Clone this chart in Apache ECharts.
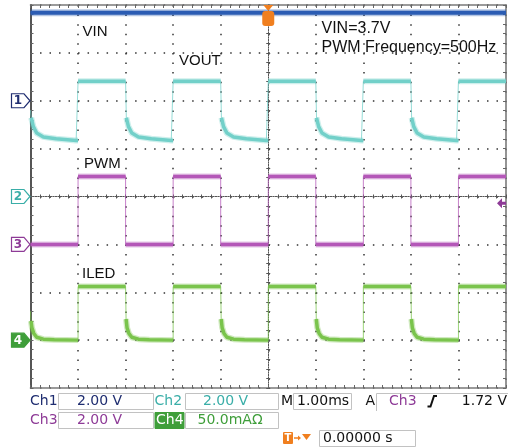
<!DOCTYPE html>
<html><head><meta charset="utf-8">
<script src="https://cdn.jsdelivr.net/npm/echarts@6/dist/echarts.min.js"></script>
<style>html,body{margin:0;padding:0;background:#fff}#c{width:508px;height:448px}</style>
</head><body><div id="c"></div>
<script>
// ---- data (time in ms, trigger at 0; 1.00 ms/div) ----
const timeRange = [-5, 5];
const vinPoints = [[-5, 3.68], [5, 3.68]];                       // Ch1, V
const voutPoints = [                                              // Ch2, V
  [-5, 3.6], [-4.985, 3.29], [-4.94, 2.92], [-4.87, 2.65], [-4.73, 2.49], [-4.46, 2.41], [-4.04, 2.34], [-4, 2.34],
  [-4, 4.81], [-3, 4.81], [-2.985, 3.29], [-2.94, 2.92], [-2.87, 2.65], [-2.73, 2.49], [-2.46, 2.41], [-2.04, 2.34], [-2, 2.34],
  [-2, 4.81], [-1, 4.81], [-0.985, 3.29], [-0.94, 2.92], [-0.87, 2.65], [-0.73, 2.49], [-0.46, 2.41], [-0.04, 2.34], [0, 2.34],
  [0, 4.81], [1, 4.81], [1.015, 3.29], [1.06, 2.92], [1.13, 2.65], [1.27, 2.49], [1.54, 2.41], [1.96, 2.34], [2, 2.34],
  [2, 4.81], [3, 4.81], [3.015, 3.29], [3.06, 2.92], [3.13, 2.65], [3.27, 2.49], [3.54, 2.41], [3.96, 2.34], [4, 2.34],
  [4, 4.81], [5, 4.81]
];
const pwmPoints = [                                               // Ch3, V
  [-5, 0], [-4, 0], [-4, 2.84], [-3, 2.84], [-3, 0], [-2, 0], [-2, 2.84], [-1, 2.84], [-1, 0],
  [0, 0], [0, 2.84], [1, 2.84], [1, 0], [2, 0], [2, 2.84], [3, 2.84], [3, 0], [4, 0], [4, 2.84], [5, 2.84]
];
const iledPoints = [                                              // Ch4, mA
  [-5, 30], [-4.99, 20], [-4.97, 13], [-4.93, 7], [-4.87, 3], [-4.73, 1], [-4.5, 0.3], [-4, 0],
  [-4, 56], [-3, 56], [-2.99, 22], [-2.97, 13], [-2.93, 7], [-2.87, 3], [-2.73, 1], [-2.5, 0.3], [-2, 0],
  [-2, 56], [-1, 56], [-0.99, 22], [-0.97, 13], [-0.93, 7], [-0.87, 3], [-0.73, 1], [-0.5, 0.3], [0, 0],
  [0, 56], [1, 56], [1.01, 22], [1.03, 13], [1.07, 7], [1.13, 3], [1.27, 1], [1.5, 0.3], [2, 0],
  [2, 56], [3, 56], [3.01, 22], [3.03, 13], [3.07, 7], [3.13, 3], [3.27, 1], [3.5, 0.3], [4, 0],
  [4, 56], [5, 56]
];
const triggerLevel = 1.72; // Ch3, V

// ---- channel settings (units per division, ground offset in divisions) ----
const channels = [
  { name: '1', perDiv: 2, offset: 2, trace: '#2b5cb3', text: '#1f2d70', filled: false },
  { name: '2', perDiv: 2, offset: 0, trace: '#72d0c9', text: '#3aaea8', filled: false },
  { name: '3', perDiv: 2, offset: -1, trace: '#b457b8', text: '#8e3b97', filled: false },
  { name: '4', perDiv: 50, offset: -3, trace: '#7ac44c', text: '#3f9e3a', filled: true }
];
const traces = [vinPoints, voutPoints, pwmPoints, iledPoints];

const chart = echarts.init(document.getElementById('c'), null, { renderer: 'canvas' });

function band(points) {
  const out = [];
  for (let i = 0; i < points.length; i++) {
    if (i > 0 && points[i][0] - points[i - 1][0] < 0.02) out.push([points[i][0], null]);
    out.push(points[i]);
  }
  return out;
}

const border = { onZero: false, lineStyle: { color: '#7a7a7a', width: 1.6 } };
const tickIn = { show: true, inside: true, length: 3, lineStyle: { color: '#666' } };
const minorIn = { show: true, splitNumber: 5, length: 3, lineStyle: { color: '#666' } };
const dottedV = { show: true, lineStyle: { color: '#333', width: 1.5, type: [1.5, 8.08] } };
const dottedH = { show: true, lineStyle: { color: '#333', width: 1.5, type: [1.5, 8.01] } };
const centerLine = { show: true, onZero: true, onZeroAxisIndex: 0, lineStyle: { color: '#555', width: 1, type: [1, 1.5] } };
const cTick = (inside) => ({ show: true, inside, length: 2, lineStyle: { color: '#555' } });
const cMinor = { show: true, splitNumber: 5, length: 2, lineStyle: { color: '#555' } };

const xAxis = [
  { type: 'value', min: timeRange[0], max: timeRange[1], interval: 1, position: 'bottom', axisLine: border, axisTick: tickIn, minorTick: minorIn, axisLabel: { show: false }, splitLine: dottedV },
  { type: 'value', min: timeRange[0], max: timeRange[1], interval: 1, position: 'top', axisLine: border, axisTick: tickIn, minorTick: minorIn, axisLabel: { show: false }, splitLine: { show: false } },
  { type: 'value', min: timeRange[0], max: timeRange[1], interval: 1, position: 'bottom', axisLine: centerLine, axisTick: cTick(true), minorTick: cMinor, axisLabel: { show: false }, splitLine: { show: false } },
  { type: 'value', min: timeRange[0], max: timeRange[1], interval: 1, position: 'bottom', axisLine: centerLine, axisTick: cTick(false), minorTick: cMinor, axisLabel: { show: false }, splitLine: { show: false } }
];
const yAxis = [
  { type: 'value', min: -4, max: 4, interval: 1, position: 'left', axisLine: { onZero: false, lineStyle: { color: '#555', width: 2 } }, axisTick: tickIn, minorTick: minorIn, axisLabel: { show: false }, splitLine: dottedH },
  { type: 'value', min: -4, max: 4, interval: 1, position: 'right', axisLine: border, axisTick: tickIn, minorTick: minorIn, axisLabel: { show: false }, splitLine: { show: false } },
  { type: 'value', min: -4, max: 4, interval: 1, position: 'left', axisLine: centerLine, axisTick: cTick(true), minorTick: cMinor, axisLabel: { show: false }, splitLine: { show: false } },
  { type: 'value', min: -4, max: 4, interval: 1, position: 'left', axisLine: centerLine, axisTick: cTick(false), minorTick: cMinor, axisLabel: { show: false }, splitLine: { show: false } }
];
channels.forEach(ch => {
  yAxis.push({ type: 'value', show: false, min: -(4 + ch.offset) * ch.perDiv, max: (4 - ch.offset) * ch.perDiv, axisLine: { onZero: false }, splitLine: { show: false } });
});

const series = [];
traces.forEach((pts, i) => {
  const ch = channels[i];
  const base = { type: 'line', xAxisIndex: 0, yAxisIndex: 4 + i, showSymbol: false, silent: true, animation: false, z: 3 };
  series.push(Object.assign({}, base, { data: pts, lineStyle: { color: ch.trace, width: 1, opacity: 0.75 } }));
  series.push(Object.assign({}, base, { data: band(pts), lineStyle: { color: ch.trace, width: i === 0 ? 7 : 6, opacity: 0.35 } }));
  series.push(Object.assign({}, base, { data: band(pts), lineStyle: { color: ch.trace, width: i === 0 ? 4 : 3.5 } }));
});

chart.setOption({
  animation: false,
  backgroundColor: '#ffffff',
  grid: { left: 30.5, right: 2, top: 5, bottom: 60, containLabel: false },
  xAxis, yAxis, series
});

// ---- decorations: channel markers, trigger markers, labels, status bar ----
const px = v => chart.convertToPixel({ xAxisIndex: 0 }, v);
const py = (idx, v) => chart.convertToPixel({ yAxisIndex: idx }, v);
const g = [];
const F = '14px "DejaVu Sans"';
const LF = '15px "Liberation Sans"';
function txt(x, y, s, fill, font, align) {
  return { type: 'text', x, y, z: 20, style: { text: s, fill, font: font || F, textAlign: align || 'left', align: align || 'left', textVerticalAlign: 'middle', verticalAlign: 'middle' } };
}
function rect(x, y, w, h, fill, stroke) {
  return { type: 'rect', z: 19, shape: { x, y, width: w, height: h }, style: { fill: fill || '#fff', stroke: stroke || '#c2c2c2', lineWidth: 1 } };
}

channels.forEach((ch, i) => {
  const y = py(4 + i, 0);
  const x0 = 11.5, tip = 30;
  g.push({ type: 'polygon', z: 20, shape: { points: [[x0, y - 7], [tip - 6, y - 7], [tip, y], [tip - 6, y + 7], [x0, y + 7]] },
    style: { fill: ch.filled ? ch.text : '#fff', stroke: ch.text, lineWidth: 1.2 } });
  g.push(txt(x0 + 6.5, y + 0.5, ch.name, ch.filled ? '#fff' : ch.text, 'bold 12px "DejaVu Sans"', 'center'));
});

// trigger position marker (top) and trigger level arrow (right)
const tx = px(0);
g.push({ type: 'polygon', z: 21, shape: { points: [[tx - 5, 5], [tx + 5, 5], [tx, 11]] }, style: { fill: '#f07f1f' } });
g.push({ type: 'rect', z: 21, shape: { x: tx - 6, y: 11, width: 12, height: 15, r: 3 }, style: { fill: '#f07f1f' } });
g.push(txt(tx, 18.5, 'T', '#fff', 'bold 10px "DejaVu Sans"', 'center'));
const ty = py(6, triggerLevel);
g.push({ type: 'polygon', z: 21, shape: { points: [[497, ty], [502, ty - 5], [502, ty - 1.5], [506, ty - 1.5], [506, ty + 1.5], [502, ty + 1.5], [502, ty + 5]] }, style: { fill: '#8e3b97' } });

// trace labels and annotation
g.push(txt(82.5, 32, 'VIN', '#111', LF));
g.push(txt(179, 60.5, 'VOUT', '#111', LF));
g.push(txt(84, 163.5, 'PWM', '#111', LF));
g.push(txt(82, 273.5, 'ILED', '#111', LF));
g.push(txt(321.5, 29, 'VIN=3.7V', '#111', '16px "Liberation Sans"'));
g.push(txt(321.5, 47.5, 'PWM Frequency=500Hz', '#111', '16px "Liberation Sans"'));

// status bar
const r1 = 401, r2 = 420, r3 = 438;
g.push(txt(30, r1, 'Ch1', '#1f2d70'));
g.push(rect(58.5, 393.5, 95, 16));
g.push(txt(77, r1, '2.00 V', '#1f2d70'));
g.push(txt(154.5, r1, 'Ch2', '#3aaea8'));
g.push(rect(185.5, 393.5, 93, 16));
g.push(txt(203, r1, '2.00 V', '#3aaea8'));
g.push(txt(281, r1, 'M', '#111'));
g.push(rect(293.5, 393.5, 58, 16));
g.push(txt(297, r1, '1.00ms', '#111'));
g.push(txt(365.5, r1, 'A', '#111'));
g.push({ type: 'polyline', z: 19, shape: { points: [[376.5, 411], [376.5, 393.5], [508, 393.5]] }, style: { stroke: '#c2c2c2', lineWidth: 1, fill: null } });
g.push(txt(389, r1, 'Ch3', '#8e3b97'));
g.push({ type: 'polyline', z: 20, shape: { points: [[427.5, 406.5], [430.5, 406.5], [434, 396], [437, 396]] }, style: { stroke: '#111', lineWidth: 2, fill: null } });
g.push(txt(507, r1, '1.72 V', '#111', F, 'right'));

g.push(txt(30, r2, 'Ch3', '#8e3b97'));
g.push(rect(58.5, 412.5, 95, 16));
g.push(txt(77, r2, '2.00 V', '#8e3b97'));
g.push(rect(155, 412.5, 29, 16, '#3f9e3a', '#3f9e3a'));
g.push(txt(156, r2, 'Ch4', '#fff'));
g.push(rect(185.5, 412.5, 93, 16));
g.push(txt(197.5, r2, '50.0mAΩ', '#3f9e3a'));

g.push({ type: 'rect', z: 20, shape: { x: 283, y: 432, width: 10, height: 12, r: 1 }, style: { fill: '#f07f1f' } });
g.push(txt(288, 438.5, 'T', '#fff', 'bold 10px "DejaVu Sans"', 'center'));
g.push({ type: 'polyline', z: 20, shape: { points: [[294, 438], [300, 438]] }, style: { stroke: '#f07f1f', lineWidth: 1.5, fill: null } });
g.push({ type: 'polygon', z: 20, shape: { points: [[298, 435.5], [301, 438], [298, 440.5]] }, style: { fill: '#f07f1f' } });
g.push({ type: 'polygon', z: 20, shape: { points: [[302, 434], [311, 434], [306.5, 440]] }, style: { fill: '#f07f1f' } });
g.push(rect(319.5, 430.5, 96, 16));
g.push(txt(323, r3, '0.00000 s', '#111'));

chart.setOption({ graphic: g });
</script>
</body></html>
